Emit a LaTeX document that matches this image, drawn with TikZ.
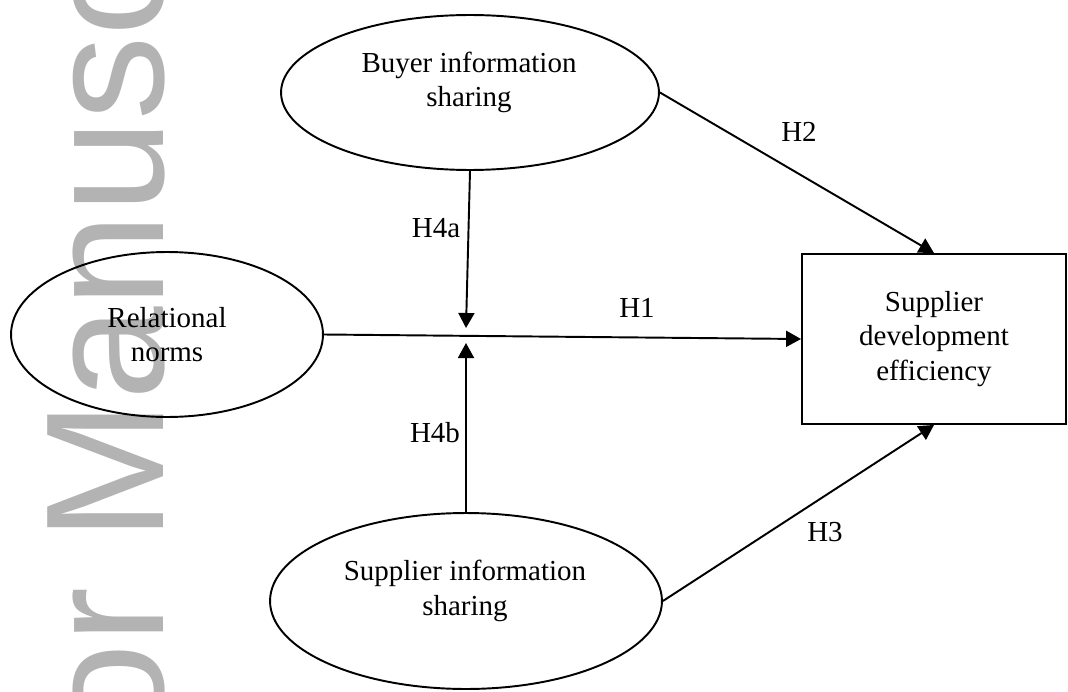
\documentclass[tikz,border=0pt]{standalone}
\usepackage{fontspec}
\setmainfont{Liberation Serif}
\newfontfamily\wmfont{Liberation Sans}
\usetikzlibrary{arrows.meta,shapes.geometric}
\definecolor{wmgray}{RGB}{179,179,179}
\begin{document}
\begin{tikzpicture}[x=0.02cm,y=0.02cm,
  every node/.style={font=\fontsize{16.5}{19.6}\selectfont},
  oval/.style={draw, ellipse, line width=1.1pt, inner sep=0pt},
  box/.style={draw, rectangle, line width=1.1pt, inner sep=0pt, align=center},
  txt/.style={align=center, inner sep=0pt},
  conn/.style={line width=1.1pt, -{Triangle[width=0.32cm,length=0.3cm]}},
  hyp/.style={inner sep=0pt}]
\useasboundingbox (0,0) rectangle (1068,691);
% watermark
\begin{scope}
\clip (0,0) rectangle (1068,691);
\node[rotate=90, anchor=base west, inner sep=0pt, text=wmgray,
      font=\wmfont\fontsize{95.8}{100}\selectfont] (wm) at (163,-393) {Author Manuscript};
\end{scope}
% nodes
\node[oval, minimum width=7.56cm, minimum height=3.10cm] (buyer) at (470,598.5) {};
\node[txt] (buyertxt) at (469,608.3) {Buyer information\\sharing};
\node[oval, align=center, minimum width=6.24cm, minimum height=3.30cm] (rel) at (167,356.5) {Relational\\norms};
\node[oval, minimum width=7.84cm, minimum height=3.52cm] (sup) at (466,90) {};
\node[txt] (suptxt) at (465,100.3) {Supplier information\\sharing};
\node[box, minimum width=5.28cm, minimum height=3.40cm] (sde) at (934,352) {Supplier\\development\\efficiency};
\coordinate (ma) at (466,363);
\coordinate (mb) at (466,348);
% connectors
\draw[conn] (rel.east) -- (sde.west);
\draw[conn] (buyer.east) -- (sde.north);
\draw[conn] (sup.east) -- (sde.south);
\draw[conn] (buyer.south) -- (ma);
\draw[conn] (sup.north) -- (mb);
% labels
\node[hyp] (h2) at (799,559) {H2};
\node[hyp] (h1) at (637,383) {H1};
\node[hyp] (h4a) at (436,463) {H4a};
\node[hyp] (h4b) at (435,258) {H4b};
\node[hyp] (h3) at (825,159) {H3};
\end{tikzpicture}
\end{document}
